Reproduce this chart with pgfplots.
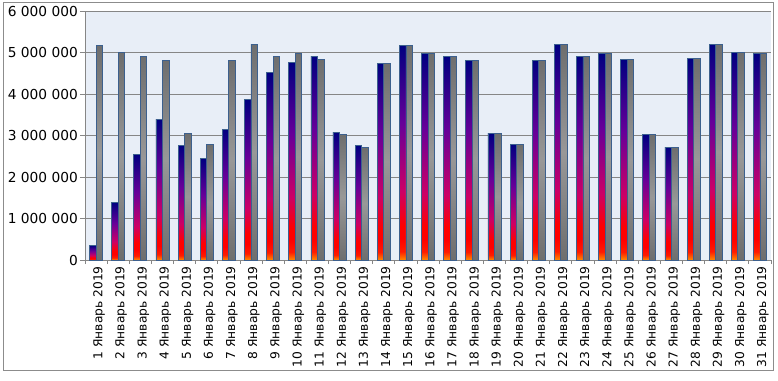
\documentclass[border=0pt]{standalone}
\usepackage{fontspec}
\setmainfont{DejaVu Sans}
\usepackage{pgfplots}
\pgfplotsset{compat=1.18}
\usepackage{pgfplotstable}
\definecolor{plotbg}{RGB}{232,238,247}
\definecolor{gridgray}{RGB}{134,134,134}
\definecolor{framegray}{RGB}{140,140,140}
\definecolor{baredge}{RGB}{60,96,142}
\definecolor{cOrange}{RGB}{255,140,0}
\definecolor{cRed}{RGB}{255,0,0}
\definecolor{cMag}{RGB}{204,0,102}
\definecolor{cPurp}{RGB}{102,0,153}
\definecolor{cNavy}{RGB}{0,0,128}
\definecolor{gDark}{RGB}{110,110,110}
\definecolor{gLight}{RGB}{152,152,152}
\pgfdeclareverticalshading{rainbowbar}{100bp}{color(0bp)=(cOrange); color(25bp)=(cOrange); color(27bp)=(cRed!80!cOrange); color(30bp)=(cRed); color(33bp)=(cRed); color(41bp)=(cMag); color(57bp)=(cPurp); color(75bp)=(cNavy); color(100bp)=(cNavy)}
\pgfdeclareverticalshading{graybar}{100bp}{color(0bp)=(gDark); color(25bp)=(gDark); color(50bp)=(gLight); color(75bp)=(gDark); color(100bp)=(gDark)}
\pgfplotstableread{
day a b
1 350000 5180000
2 1390000 5000000
3 2550000 4910000
4 3390000 4810000
5 2760000 3050000
6 2440000 2790000
7 3150000 4810000
8 3870000 5200000
9 4520000 4910000
10 4760000 4980000
11 4910000 4840000
12 3080000 3030000
13 2760000 2720000
14 4740000 4740000
15 5170000 5170000
16 4980000 4980000
17 4910000 4910000
18 4810000 4810000
19 3050000 3050000
20 2790000 2790000
21 4810000 4810000
22 5200000 5200000
23 4910000 4910000
24 4980000 4980000
25 4840000 4840000
26 3030000 3030000
27 2720000 2720000
28 4860000 4860000
29 5200000 5200000
30 5010000 5010000
31 4980000 4980000
}\datatable
\begin{document}
\begin{tikzpicture}
\path[use as bounding box] (0,0) rectangle (778bp,381bp);
\draw[framegray, line width=1bp] (3bp,10bp) rectangle (773bp,378bp);
\begin{axis}[
  at={(85bp,121bp)}, anchor=south west,
  scale only axis, width=686bp, height=249bp,
  xmin=0.5, xmax=31.5, ymin=0, ymax=6000000,
  axis x line*=bottom, axis y line*=left,
  axis line style={-, draw=gridgray, line width=0.8bp},
  axis background/.style={fill=plotbg},
  ymajorgrids, grid style={draw=gridgray, line width=0.8bp},
  scaled y ticks=false,
  ytick={0,1000000,2000000,3000000,4000000,5000000,6000000},
  yticklabels={0,1 000 000,2 000 000,3 000 000,4 000 000,5 000 000,6 000 000},
  xtick={1,...,31},
  xticklabels={1 Январь 2019,2 Январь 2019,3 Январь 2019,4 Январь 2019,5 Январь 2019,6 Январь 2019,7 Январь 2019,8 Январь 2019,9 Январь 2019,10 Январь 2019,11 Январь 2019,12 Январь 2019,13 Январь 2019,14 Январь 2019,15 Январь 2019,16 Январь 2019,17 Январь 2019,18 Январь 2019,19 Январь 2019,20 Январь 2019,21 Январь 2019,22 Январь 2019,23 Январь 2019,24 Январь 2019,25 Январь 2019,26 Январь 2019,27 Январь 2019,28 Январь 2019,29 Январь 2019,30 Январь 2019,31 Январь 2019},
  minor xtick={0.5,1.5,...,31.5},
  tick align=outside, major tick length=5bp, minor tick length=4bp,
  major x tick style={draw=none},
  minor x tick style={draw=gridgray, line width=0.8bp},
  ytick style={draw=gridgray, line width=0.8bp},
  /pgf/number format/assume math mode=true,
  yticklabel style={font=\fontsize{13.8}{15}\selectfont, inner sep=1bp, xshift=-1bp},
  xticklabel style={font=\fontsize{12.3}{14}\selectfont, rotate=90, anchor=east, inner sep=1bp, yshift=-3bp},
  clip=false,
]
\pgfplotsinvokeforeach{1,...,31}{
\addplot[ybar, bar width=6.5bp, bar shift=-3.25bp, draw=baredge, line width=0.7bp, shading=rainbowbar, restrict x to domain=#1:#1] table[x=day, y=a] {\datatable};
\addplot[ybar, bar width=6.5bp, bar shift=3.25bp, draw=baredge, line width=0.7bp, shading=graybar, restrict x to domain=#1:#1] table[x=day, y=b] {\datatable};
}
\end{axis}
\end{tikzpicture}
\end{document}
